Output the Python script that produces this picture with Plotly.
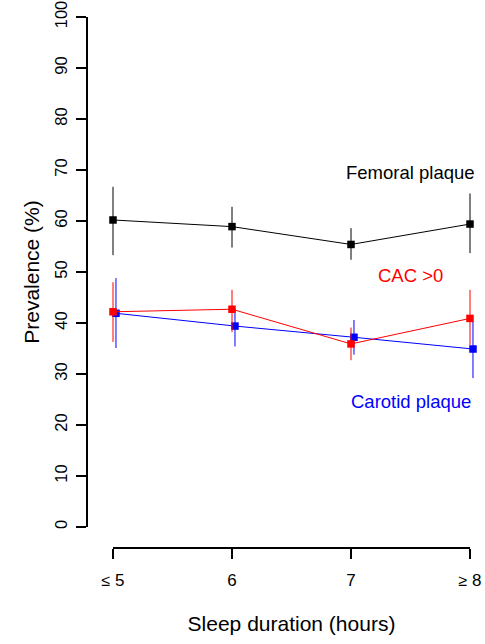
import plotly.graph_objects as go

# ---- data ----
categories = ["\u22645", "6", "7", "\u22658"]
tick_text = ["<span style='font-size:16px'>\u2264</span> 5", "6", "7",
             "<span style='font-size:16px'>\u2265</span> 8"]

femoral = [60.2, 58.9, 55.4, 59.4]
femoral_lo = [53.3, 54.8, 52.4, 53.7]
femoral_hi = [66.7, 62.8, 58.6, 65.4]

cac = [42.2, 42.7, 35.9, 40.9]
cac_lo = [36.3, 38.2, 32.7, 35.7]
cac_hi = [48.0, 46.5, 39.1, 46.5]

carotid = [41.9, 39.4, 37.2, 34.9]
carotid_lo = [35.1, 35.4, 33.8, 29.2]
carotid_hi = [48.8, 42.8, 40.6, 40.3]

y_ticks = [0, 10, 20, 30, 40, 50, 60, 70, 80, 90, 100]

series_names = ["Femoral plaque", "CAC >0", "Carotid plaque"]
label_y = [69.6, 49.4, 24.7]

# ---- styling ----
FONT = "Liberation Sans, Arial, sans-serif"
W, H = 485, 644
ML, MR, MT, MB = 88, 0, 17, 96
DODGE = 0.025  # small horizontal offset of the carotid series (as in the original)

xs = list(range(len(categories)))


def trace(y, lo, hi, color, dx=0.0, name=""):
    return go.Scatter(
        x=[v + dx for v in xs], y=y, mode="lines+markers", name=name,
        line=dict(color=color, width=1),
        marker=dict(symbol="square", size=7.5, color=color),
        error_y=dict(type="data", symmetric=False,
                     array=[h - v for h, v in zip(hi, y)],
                     arrayminus=[v - l for v, l in zip(y, lo)],
                     color=color, thickness=1, width=0),
        cliponaxis=False, hoverinfo="skip", showlegend=False,
        xaxis="x", yaxis="y",
    )


fig = go.Figure()
fig.add_trace(trace(femoral, femoral_lo, femoral_hi, "#000000", name=series_names[0]))
fig.add_trace(trace(carotid, carotid_lo, carotid_hi, "#0000FF", dx=DODGE, name=series_names[2]))
fig.add_trace(trace(cac, cac_lo, cac_hi, "#FF0000", name=series_names[1]))

# invisible trace to carry the detached x axis (R style)
fig.add_trace(go.Scatter(x=[xs[0], xs[-1]], y=[None, None], mode="markers",
                         xaxis="x2", yaxis="y", showlegend=False, hoverinfo="skip"))

label_colors = ["#000000", "#FF0000", "#0000FF"]
for name, ly, col in zip(series_names, label_y, label_colors):
    fig.add_annotation(x=2.5, y=ly, xref="x", yref="y", text=name, showarrow=False,
                       font=dict(family=FONT, size=18.5, color=col),
                       xanchor="center", yanchor="middle")

plot_w = W - ML - MR
plot_h = H - MT - MB
px_per_unit = 119.0
x0_px = 113 - ML
x_lo = -x0_px / px_per_unit
x_hi = (plot_w - x0_px) / px_per_unit

fig.update_layout(
    width=W, height=H,
    margin=dict(l=ML, r=MR, t=MT, b=MB, autoexpand=False),
    paper_bgcolor="white", plot_bgcolor="rgba(0,0,0,0)",
    font=dict(family=FONT, color="#000000"),
    xaxis=dict(domain=[0, 1], range=[x_lo, x_hi], visible=False, fixedrange=True),
    xaxis2=dict(
        domain=[x0_px / plot_w, (x0_px + 3 * px_per_unit) / plot_w],
        range=[0, 3], anchor="free", position=0,
        tickmode="array", tickvals=xs, ticktext=tick_text,
        showline=True, linecolor="#000000", linewidth=1.8,
        ticks="outside", ticklen=10, tickwidth=1.8, tickcolor="#000000",
        showgrid=False, zeroline=False, ticklabelstandoff=7,
        tickfont=dict(family=FONT, size=17, color="#000000"),
        title=dict(text="Sleep duration (hours)", standoff=26,
                   font=dict(family=FONT, size=21, color="#000000")),
        automargin=False,
    ),
    yaxis=dict(
        domain=[21 / plot_h, 1], range=[0, 100],
        tickmode="array", tickvals=y_ticks,
        showline=True, linecolor="#000000", linewidth=1.8,
        ticks="outside", ticklen=10, tickwidth=1.8, tickcolor="#000000",
        showgrid=False, zeroline=False, tickangle=-90, ticklabelstandoff=3,
        tickfont=dict(family=FONT, size=16.5, color="#000000"),
        title=dict(text="Prevalence (%)", standoff=6,
                   font=dict(family=FONT, size=21, color="#000000")),
        automargin=False,
    ),
)

fig.write_html("out.html", config={"displayModeBar": False},
               post_script="document.body.style.margin='0';")
